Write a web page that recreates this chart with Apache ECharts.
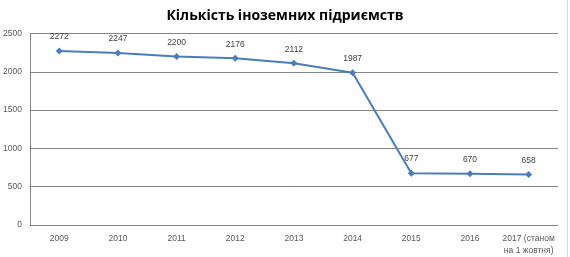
<!DOCTYPE html>
<html>
<head>
<meta charset="utf-8">
<script src="https://cdn.jsdelivr.net/npm/echarts@6/dist/echarts.min.js"></script>
<style>
html,body{margin:0;padding:0;background:#fff;}
#chart{width:570px;height:257px;}
</style>
</head>
<body>
<div id="chart"></div>
<script>
const titleText = 'Кількість іноземних підриємств';
const categories = ['2009','2010','2011','2012','2013','2014','2015','2016','2017 (станом\nна 1 жовтня)'];
const values = [2272, 2247, 2200, 2176, 2112, 1987, 677, 670, 658];
const yTicks = [0, 500, 1000, 1500, 2000, 2500];

const chart = echarts.init(document.getElementById('chart'), null, {renderer:'canvas'});
chart.setOption({
  animation: false,
  backgroundColor: '#ffffff',
  title: {
    text: titleText,
    left: 'center',
    top: 4,
    textStyle: {fontFamily: 'Open Sans', fontWeight: 'bold', fontSize: 14, color: '#000000'}
  },
  grid: {left: 28, right: 12, top: 33.5, bottom: 30.5, containLabel: false},
  xAxis: {
    type: 'category',
    data: categories,
    boundaryGap: true,
    axisLine: {show: true, lineStyle: {color: '#868686', width: 1}},
    axisTick: {show: false},
    axisLabel: {color: '#595959', fontFamily: 'Liberation Sans', fontSize: 8.5, margin: 8, lineHeight: 12, interval: 0}
  },
  yAxis: {
    type: 'value',
    min: yTicks[0],
    max: yTicks[yTicks.length - 1],
    interval: 500,
    axisLine: {show: true, lineStyle: {color: '#868686', width: 1}},
    axisTick: {show: false},
    splitLine: {show: true, lineStyle: {color: '#868686', width: 1}},
    axisLabel: {color: '#595959', fontFamily: 'Liberation Sans', fontSize: 8.5, margin: 8, formatter: function (v) { return String(v); }}
  },
  graphic: [{
    type: 'line',
    shape: {x1: 567.5, y1: 0, x2: 567.5, y2: 257},
    style: {stroke: '#d9d9d9', lineWidth: 1}
  }],
  series: [{
    type: 'line',
    data: values,
    symbol: 'diamond',
    symbolSize: 7,
    lineStyle: {color: '#4A7EBB', width: 2},
    itemStyle: {color: '#4A7EBB'},
    label: {show: true, position: 'top', distance: 6, color: '#404040', fontFamily: 'Liberation Sans', fontSize: 8.5}
  }]
});
</script>
</body>
</html>
